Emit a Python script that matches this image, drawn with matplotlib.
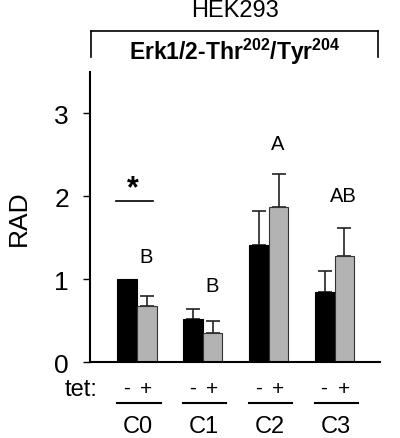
import numpy as np
import matplotlib
matplotlib.use("Agg")
import matplotlib.pyplot as plt
from matplotlib.lines import Line2D

plt.rcParams['font.family'] = ['Liberation Sans', 'DejaVu Sans']
plt.rcParams['mathtext.fontset'] = 'custom'
plt.rcParams['mathtext.rm'] = 'Liberation Sans'
plt.rcParams['mathtext.bf'] = 'Liberation Sans:bold'

categories = ['C0', 'C1', 'C2', 'C3']
tet_labels = ['-', '+']
minus_vals = [1.00, 0.52, 1.41, 0.84]
minus_err = [0.00, 0.12, 0.41, 0.26]
plus_vals = [0.68, 0.35, 1.87, 1.28]
plus_err = [0.12, 0.15, 0.40, 0.34]
letters = ['B', 'B', 'A', 'AB']
letter_y = [1.27, 0.92, 2.64, 2.01]
yticks = [0, 1, 2, 3]

fig = plt.figure(figsize=(4.0, 4.39), dpi=100)
ax = fig.add_axes([0.225, 0.1731, 0.725, 0.6606])

x = np.arange(len(categories))
w = 0.30
ax.bar(x - w/2, minus_vals, w, color='black', edgecolor='black', linewidth=0.8, zorder=2)
ax.bar(x + w/2, plus_vals, w, color='#b3b3b3', edgecolor='#333333', linewidth=0.8, zorder=2)

for xs, vals, errs in [(x - w/2, minus_vals, minus_err), (x + w/2, plus_vals, plus_err)]:
    for xi, v, e in zip(xs, vals, errs):
        if e > 0:
            ax.errorbar([xi], [v], yerr=[[0], [e]], fmt='none', ecolor='#222222',
                        elinewidth=1.2, capsize=4.7, capthick=1.2, zorder=1)

for xi, lab, ly in zip(x, letters, letter_y):
    ax.text(xi + 0.14, ly, lab, ha='center', va='center', fontsize=14.5)

# significance star and line
ax.plot([-0.31, 0.25], [1.94, 1.94], color='black', lw=1.2, clip_on=False)
ax.text(-0.06, 2.10, '*', ha='center', va='center', fontsize=22, fontweight='bold')

ax.set_xlim(-0.71, 3.69)
ax.set_ylim(0, 3.5)
ax.set_yticks(yticks)
ax.set_yticklabels([str(t) for t in yticks], fontsize=19)
ax.set_xticks([])
ax.tick_params(axis='y', direction='out', length=5.2, width=1.0, pad=10, colors='black')
for s in ['top', 'right']:
    ax.spines[s].set_visible(False)
for s in ['left', 'bottom']:
    ax.spines[s].set_linewidth(1.5)
ax.set_ylabel('RAD', fontsize=19)
ax.yaxis.set_label_coords(-0.205, 0.5)

# tet labels below axis
trans = ax.get_xaxis_transform()
ax.text(-0.60, -0.093, 'tet:', transform=trans, ha='right', va='center', fontsize=17, clip_on=False)
for xi, cat in zip(x, categories):
    ax.text(xi - 0.16, -0.088, tet_labels[0], transform=trans, ha='center', va='center', fontsize=15)
    ax.text(xi + 0.14, -0.093, tet_labels[1], transform=trans, ha='center', va='center', fontsize=15)
    ax.add_line(Line2D([xi - 0.30, xi + 0.36], [-0.142, -0.142], transform=trans,
                       color='black', lw=1.5, clip_on=False))
    ax.text(xi + 0.02, -0.222, cat, transform=trans, ha='center', va='center', fontsize=17)

# header
fig.text(235/400, 1 - 11/439, 'HEK293', ha='center', va='center', fontsize=17)
fig.text(235/400, 1 - 52/439, r'Erk1/2-Thr$^{\mathbf{202}}$/Tyr$^{\mathbf{204}}$',
         ha='center', va='center', fontsize=16.5, fontweight='bold')
bx0, bx1, by0, by1 = 91/400, 378/400, 1 - 32/439, 1 - 58/439
fig.add_artist(Line2D([bx0, bx1], [by0, by0], transform=fig.transFigure, color='black', lw=1.2))
fig.add_artist(Line2D([bx0, bx0], [by0, by1], transform=fig.transFigure, color='black', lw=1.2))
fig.add_artist(Line2D([bx1, bx1], [by0, by1], transform=fig.transFigure, color='black', lw=1.2))

fig.savefig('out.png', dpi=100)
